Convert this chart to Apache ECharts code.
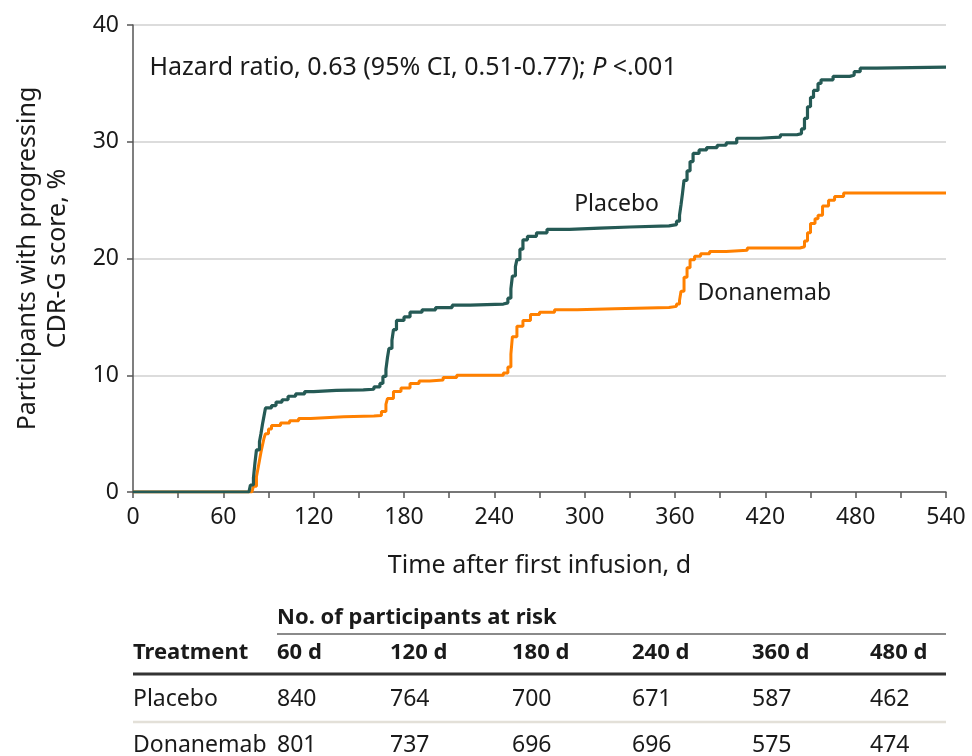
<!DOCTYPE html>
<html>
<head>
<meta charset="utf-8">
<script src="https://cdn.jsdelivr.net/npm/echarts@6/dist/echarts.min.js"></script>
<style>
  html, body { margin: 0; padding: 0; background: #fff; }
  #chart { width: 972px; height: 756px; }
</style>
</head>
<body>
<div id="chart"></div>
<script>
// Cumulative share of participants with a progressing CDR-G score, [day, %]
const placebo = [
  [0,0],[77,0],[78,0.6],[80,1.2],[81,2.5],[82,3.6],[84,4.3],[85,5.0],[86,5.8],[87,6.5],[88,7.2],
  [92,7.4],[95,7.7],[99,7.9],[103,8.2],[108,8.4],[114,8.6],[120,8.7],[135,8.75],[153,8.8],
  [160,9.0],[164,9.3],[166,9.9],[168,10.5],[169,11.5],[170,12.3],[172,13.0],[173,13.9],[175,14.7],
  [180,15.0],[184,15.4],[192,15.6],[201,15.8],[212,16.0],[224,16.1],[246,16.2],[249,16.6],
  [251,17.4],[252,18.5],[254,19.3],[255,19.9],[257,20.8],[259,21.6],[262,21.9],[268,22.2],
  [275,22.5],[290,22.6],[310,22.7],[330,22.8],[356,22.9],[361,23.2],[363,23.7],[364,24.6],
  [365,25.6],[366,26.7],[368,27.5],[370,28.3],[372,29.0],[376,29.3],[381,29.5],[388,29.7],
  [394,29.9],[401,30.3],[416,30.4],[430,30.6],[441,30.7],[444,31.1],[446,32.0],[448,33.0],
  [450,33.8],[452,34.4],[455,35.0],[457,35.3],[465,35.6],[476,35.7],[479,36.0],[483,36.3],
  [494,36.4],[540,36.4]
];
const donanemab = [
  [0,0],[79,0],[80,0.5],[82,1.3],[83,2.0],[84,2.7],[85,3.4],[86,4.0],[87,4.6],[88,5.0],
  [90,5.4],[92,5.7],[98,5.9],[104,6.1],[110,6.3],[118,6.45],[140,6.5],[160,6.55],[165,6.9],
  [168,7.5],[169,8.0],[173,8.6],[178,8.9],[184,9.3],[190,9.5],[197,9.6],[206,9.8],[215,10.0],
  [246,10.2],[249,10.7],[251,11.8],[252,13.3],[255,14.2],[259,14.7],[264,15.2],[270,15.4],
  [280,15.6],[295,15.7],[320,15.8],[356,15.9],[361,16.1],[363,16.4],[364,17.2],[366,18.4],
  [368,19.2],[370,19.9],[373,20.2],[377,20.4],[383,20.6],[394,20.7],[408,20.9],[443,21.0],
  [446,21.5],[448,22.2],[450,23.0],[453,23.4],[455,23.7],[458,24.5],[462,25.0],[466,25.3],
  [472,25.6],[540,25.6]
];

// Number-at-risk table
const riskDays = ['60 d', '120 d', '180 d', '240 d', '360 d', '480 d'];
const riskPlacebo = [840, 764, 700, 671, 587, 462];
const riskDonanemab = [801, 737, 696, 696, 575, 474];

const FONT = 'Noto Sans';
const TEXT = '#1a1a1a';
const COL_PLACEBO = '#255a55';
const COL_DONA = '#ff8000';

const chart = echarts.init(document.getElementById('chart'), null, { renderer: 'canvas' });

chart.setOption({
  animation: false,
  backgroundColor: '#ffffff',
  textStyle: { fontFamily: FONT, color: TEXT },
  grid: { left: 133, right: 26, top: 25, bottom: 264, containLabel: false, outerBoundsMode: 'none' },
  xAxis: {
    type: 'value', min: 0, max: 540, interval: 30,
    name: 'Time after first infusion, d',
    nameLocation: 'middle', nameGap: 61,
    nameTextStyle: { fontSize: 25, color: TEXT, fontFamily: FONT },
    axisLine: { show: true, lineStyle: { color: '#555', width: 1.5 } },
    axisTick: { show: true, length: 6, lineStyle: { color: '#555', width: 1.5 } },
    axisLabel: {
      fontSize: 23, color: TEXT, margin: 14, fontFamily: FONT,
      formatter: v => (v % 60 === 0 ? String(v) : '')
    },
    splitLine: { show: false }
  },
  yAxis: {
    type: 'value', min: 0, max: 40, interval: 10,
    name: 'Participants with progressing\nCDR-G score, %',
    nameLocation: 'middle', nameGap: 60,
    nameTextStyle: { fontSize: 25, color: TEXT, lineHeight: 30, fontFamily: FONT },
    axisLine: { show: true, lineStyle: { color: '#555', width: 1.5 } },
    axisTick: { show: true, length: 6, lineStyle: { color: '#555', width: 1.5 } },
    axisLabel: { fontSize: 23, color: TEXT, margin: 14, fontFamily: FONT },
    splitLine: { show: true, lineStyle: { color: '#dcdcdc', width: 2 } }
  },
  series: [
    {
      name: 'Donanemab', type: 'line', step: 'end', data: donanemab,
      showSymbol: false, lineStyle: { color: COL_DONA, width: 3 }, z: 3
    },
    {
      name: 'Placebo', type: 'line', step: 'end', data: placebo,
      showSymbol: false, lineStyle: { color: COL_PLACEBO, width: 3.2 }, z: 4
    }
  ]
});

// Annotations anchored to data coordinates
const at = (d, v) => chart.convertToPixel({ gridIndex: 0 }, [d, v]);
const hr = at(11, 36.3);
const lp = at(293, 24.6);
const ld = at(375, 17.0);

// Table layout
const colX = [277, 390, 512, 632, 752, 870];
const tableLeft = 133, tableRight = 946;
const rowY = { title: 618, head: 653, placebo: 699, dona: 745 };
const cell = (x, y, text, bold, size) => ({
  type: 'text', x: x, y: y,
  style: {
    text: text, fontSize: size, fontWeight: bold ? 'bold' : 'normal',
    fontFamily: FONT, fill: TEXT, verticalAlign: 'middle'
  }
});
const tableEls = [];
tableEls.push(cell(colX[0], rowY.title, 'No. of participants at risk', true, 22));
tableEls.push({
  type: 'line', shape: { x1: colX[0], y1: 634, x2: tableRight, y2: 634 },
  style: { stroke: '#8a8a8a', lineWidth: 2 }
});
tableEls.push(cell(tableLeft, rowY.head, 'Treatment', true, 22));
riskDays.forEach((t, i) => tableEls.push(cell(colX[i], rowY.head, t, true, 22)));
tableEls.push({
  type: 'line', shape: { x1: tableLeft, y1: 674, x2: tableRight, y2: 674 },
  style: { stroke: '#333', lineWidth: 3 }
});
tableEls.push(cell(tableLeft, rowY.placebo, 'Placebo', false, 23));
riskPlacebo.forEach((n, i) => tableEls.push(cell(colX[i], rowY.placebo, String(n), false, 23)));
tableEls.push({
  type: 'line', shape: { x1: tableLeft, y1: 722, x2: tableRight, y2: 722 },
  style: { stroke: '#e3e0d8', lineWidth: 2.5 }
});
tableEls.push(cell(tableLeft, rowY.dona, 'Donanemab', false, 23));
riskDonanemab.forEach((n, i) => tableEls.push(cell(colX[i], rowY.dona, String(n), false, 23)));

chart.setOption({
  graphic: [
    {
      type: 'text', x: hr[0], y: hr[1],
      style: {
        text: '{n|Hazard ratio, 0.63 (95% CI, 0.51-0.77); }{i|P}{n| <.001}',
        verticalAlign: 'middle', fontFamily: FONT,
        rich: {
          n: { fontSize: 25, fontFamily: FONT, fill: TEXT, color: TEXT },
          i: { fontSize: 25, fontFamily: FONT, fontStyle: 'italic', fill: TEXT, color: TEXT }
        }
      }
    },
    {
      type: 'text', x: lp[0], y: lp[1],
      style: { text: 'Placebo', fontSize: 23, fontFamily: FONT, fill: TEXT, verticalAlign: 'middle' }
    },
    {
      type: 'text', x: ld[0], y: ld[1],
      style: { text: 'Donanemab', fontSize: 23, fontFamily: FONT, fill: TEXT, verticalAlign: 'middle' }
    }
  ].concat(tableEls)
});
</script>
</body>
</html>
